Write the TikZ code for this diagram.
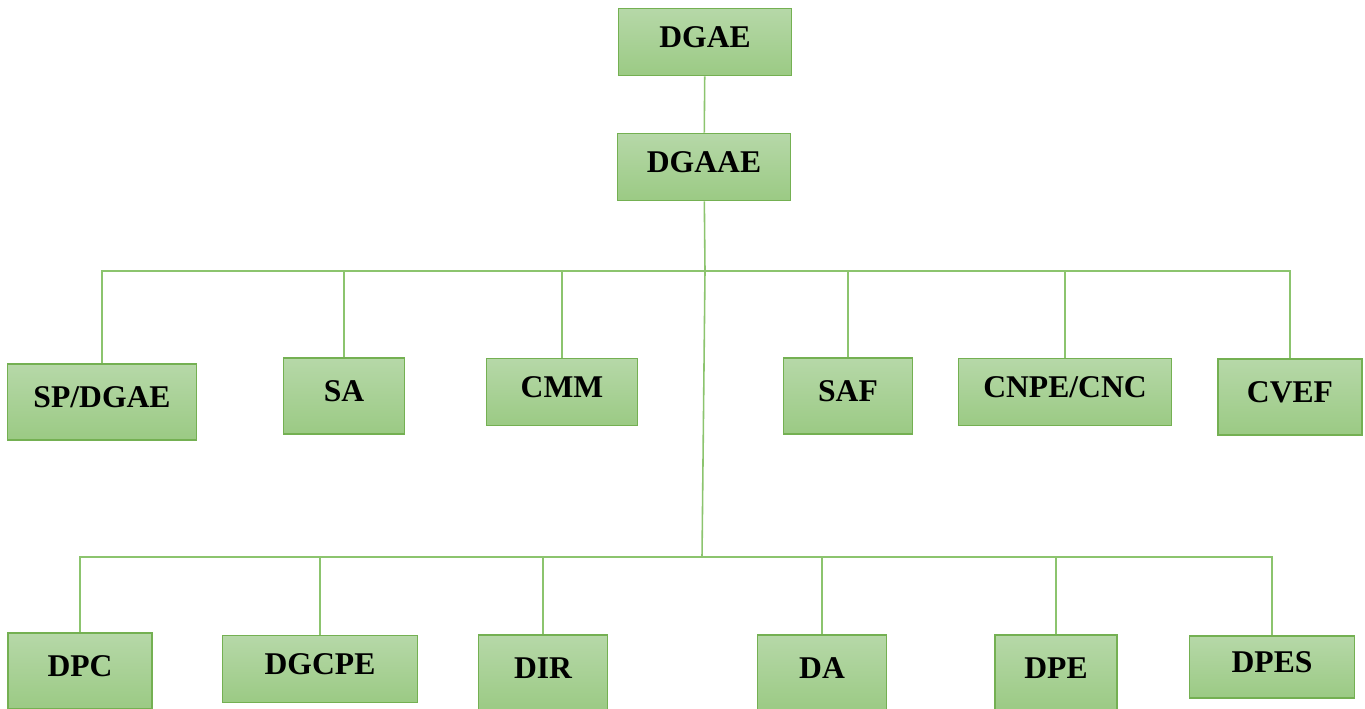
\documentclass[tikz,border=0pt]{standalone}
\usepackage{fontspec}
\setmainfont{Liberation Serif}
\definecolor{boxtop}{HTML}{B6D8A8}
\definecolor{boxbot}{HTML}{9BCA84}
\definecolor{boxline}{HTML}{74B052}
\definecolor{linegreen}{HTML}{8CC46E}
\tikzset{
	unit/.style={draw=boxline, line width=0.9pt, top color=boxtop, bottom color=boxbot,
		font=\fontsize{18}{20}\selectfont\bfseries, text height=0.42cm, text depth=0.2cm,
		minimum height=1.34cm, inner sep=0pt},
	tall/.style={minimum height=1.52cm},
	wire/.style={draw=linegreen, line width=0.9pt}
}
\begin{document}
\begin{tikzpicture}[x=0.02cm, y=-0.02cm]
		\useasboundingbox (0,0) rectangle (1365,708);
		\node[unit, minimum width=3.46cm] (DGAE) at (705,42) {DGAE};
		\node[unit, minimum width=3.46cm] (DGAAE) at (704,167) {DGAAE};
		% first level
		\node[unit, tall, minimum width=3.78cm] (SPDGAE) at (102,402) {SP/DGAE};
		\node[unit, tall, minimum width=2.42cm] (SA) at (344,396) {SA};
		\node[unit, minimum width=3.02cm] (CMM) at (562,392) {CMM};
		\node[unit, tall, minimum width=2.58cm] (SAF) at (848,396) {SAF};
		\node[unit, minimum width=4.26cm] (CNPE) at (1065,392) {CNPE/CNC};
		\node[unit, tall, minimum width=2.88cm] (CVEF) at (1290,397) {CVEF};
		% second level
		\node[unit, tall, minimum width=2.88cm] (DPC) at (80,671) {DPC};
		\node[unit, minimum width=3.90cm] (DGCPE) at (320,669) {DGCPE};
		\node[unit, tall, minimum width=2.58cm] (DIR) at (543,673) {DIR};
		\node[unit, tall, minimum width=2.58cm] (DA) at (822,673) {DA};
		\node[unit, tall, minimum width=2.44cm] (DPE) at (1056,673) {DPE};
		\node[unit, minimum height=1.24cm, minimum width=3.30cm] (DPES) at (1272,667) {DPES};
		\coordinate (top bus) at (705,271);
		\coordinate (low bus) at (702,557);
		\draw[wire] (DGAE) -- (DGAAE);
		\draw[wire] (DGAAE) -- (top bus) -- (low bus);
		\foreach \n in {SPDGAE, SA, CMM, SAF, CNPE, CVEF}
			\draw[wire] (top bus) -| (\n);
		\foreach \n in {DPC, DGCPE, DIR, DA, DPE, DPES}
			\draw[wire] (low bus) -| (\n);
	\end{tikzpicture}
\end{document}
